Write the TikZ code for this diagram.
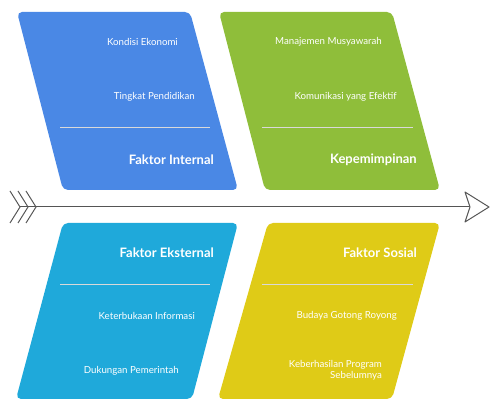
\documentclass[tikz,border=0pt]{standalone}
\usepackage{fontspec}
\setmainfont{Lato}
\usetikzlibrary{calc}
\definecolor{biru}{HTML}{4A88E5}
\definecolor{hijau}{HTML}{8FBE3A}
\definecolor{tosca}{HTML}{1FA9DA}
\definecolor{kuning}{HTML}{DFCB17}
\definecolor{garis}{HTML}{555555}
\tikzset{
  kotak/.style={rounded corners=5pt},
  sub/.style={anchor=east,text=white,font=\fontsize{9.7}{11}\selectfont,inner sep=0pt},
  judul/.style={anchor=east,text=white,font=\fontsize{13}{15}\bfseries\selectfont,inner sep=0pt},
  pisah/.style={white!85!black,line width=1pt}
}
\begin{document}
\begin{tikzpicture}[x=1pt,y=-1pt]
\useasboundingbox (0,0) rectangle (491,401);
% kotak atas
\fill[biru,kotak] (17,12) -- (190,12) -- (238,190) -- (63,190) -- cycle;
\fill[hijau,kotak] (219,12) -- (392,12) -- (440,190) -- (265,190) -- cycle;
% kotak bawah
\fill[tosca,kotak] (63,223) -- (238,223) -- (192,399) -- (16,399) -- cycle;
\fill[kuning,kotak] (268,223) -- (440,223) -- (392,399) -- (218,399) -- cycle;
% garis pemisah
\draw[pisah] (60,128) -- (210,128);
\draw[pisah] (262,128) -- (413,128);
\draw[pisah] (60,285) -- (210,285);
\draw[pisah] (262,285) -- (413,285);
% teks
\node[sub] (ekonomi) at (178,42) {Kondisi Ekonomi};
\node[sub] (pendidikan) at (195,97) {Tingkat Pendidikan};
\node[judul] (internal) at (214,160) {Faktor Internal};
\node[sub] (musyawarah) at (382,42) {Manajemen Musyawarah};
\node[sub] (komunikasi) at (397,97) {Komunikasi yang Efektif};
\node[judul] (pemimpin) at (417,160) {Kepemimpinan};
\node[judul] (eksternal) at (214,253) {Faktor Eksternal};
\node[sub] (informasi) at (195,316) {Keterbukaan Informasi};
\node[sub] (pemerintah) at (179,371) {Dukungan Pemerintah};
\node[judul] (sosial) at (417,253) {Faktor Sosial};
\node[sub] (gotong) at (397,316) {Budaya Gotong Royong};
\node[sub,align=right] (program) at (382,370) {Keberhasilan Program\\Sebelumnya};
% tulang ikan
\coordinate (ekor) at (20,207);
\coordinate (takik) at (470,207);
\draw[garis,line width=1pt] (ekor) -- (takik);
\foreach \i in {0,1,2}
  \draw[garis,line width=1pt] (10+8*\i,191) -- (20+8*\i,207) -- (10+8*\i,223);
\draw[garis,line width=1pt,fill=white,line join=round] (takik) -- (465,192) -- (489,207) -- (465,222) -- cycle;
\end{tikzpicture}
\end{document}
